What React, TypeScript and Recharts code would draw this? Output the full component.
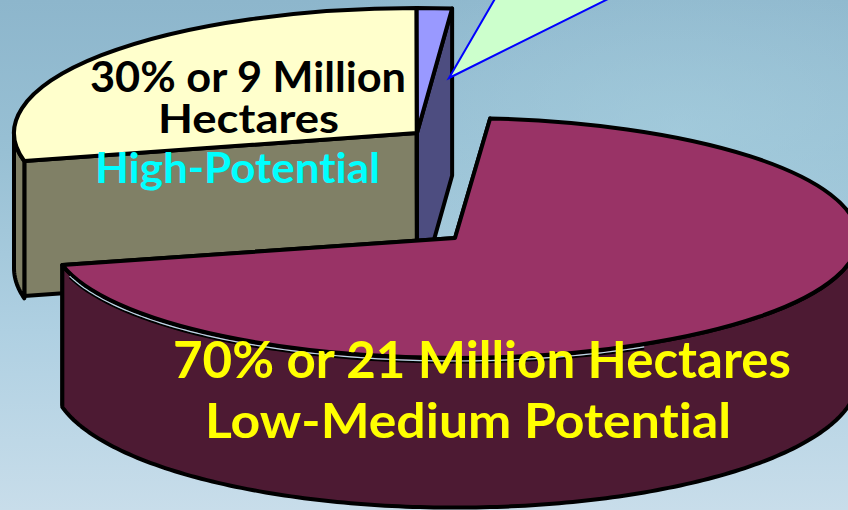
import React from "react";
import { PieChart, Pie } from "recharts";

const W = 848;
const H = 510;

// --- data ---
const categories = ["High-Potential", "Other", "Low-Medium Potential"];
const shares = [28.6, 1.4, 70];
const labelLines = [
  ["30% or 9 Million", "Hectares", "High-Potential"],
  [],
  ["70% or 21 Million Hectares", "Low-Medium Potential"],
];

// --- styles ---
const topColors = ["#FFFFCC", "#9999FF", "#993366"];
const wallColors = ["#808066", "#4D4D80", "#4D1A33"];
const offsetsX = [-38, -38, 0];
const offsetsY = [-105, -105, 0];
const radiiY = [125, 125, 120];
const depths = [135, 167, 140];
const bulges = [1.08, 1.08, 1.08];
const slivers = [false, false, true];

const labelX = [[90, 158, 95], [], [173, 205]];
const labelY = [[92, 133, 183], [], [378, 438]];
const labelW = [[316, 181, 285], [], [618, 526]];
const labelSize = [[42, 41, 42], [], [51, 47]];
const labelFill = [["#000", "#000", "#00FFFF"], [], ["#FFFF00", "#FFFF00"]];

const fontFamily = "Lato, 'Open Sans', sans-serif";
const rad = (a: number) => (a * Math.PI) / 180;

function Slice3D(props: any) {
  const { cx, cy, outerRadius, startAngle, endAngle, index } = props;
  const idx = index ?? categories.indexOf(props.name ?? props.payload?.name);
  const x0 = cx + offsetsX[idx];
  const y0 = cy + offsetsY[idx];
  const rx = outerRadius;
  const ry = radiiY[idx];
  const depth = depths[idx];
  const bulge = bulges[idx];
  const top = (t: number) => [x0 + rx * Math.cos(rad(t)), y0 - ry * Math.sin(rad(t))];
  const bottom = (t: number) => [x0 + rx * Math.cos(rad(t)), y0 + depth - ry * bulge * Math.sin(rad(t))];
  const poly = (pts: number[][]) => pts.map((p, i) => `${i ? "L" : "M"}${p[0]} ${p[1]}`).join(" ") + " Z";

  const ts: number[] = [];
  for (let t = startAngle; t >= endAngle; t -= 1) if (Math.sin(rad(t)) <= 0.0001) ts.push(t);
  if (Math.sin(rad(endAngle)) <= 0) ts.push(endAngle);

  const outer = ts.length > 1 ? poly([...ts.map(top), ...ts.slice().reverse().map(bottom)]) : null;
  const apexB = [x0, y0 + depth];
  const cut = (t: number) => poly([[x0, y0], top(t), [top(t)[0], top(t)[1] + depth], apexB]);
  const s = top(startAngle);
  const e = top(endAngle);
  const large = Math.abs(startAngle - endAngle) > 180 ? 1 : 0;
  const face = `M${x0} ${y0} L${s[0]} ${s[1]} A${rx} ${ry} 0 ${large} 1 ${e[0]} ${e[1]} Z`;

  const stroke = { stroke: "#000", strokeWidth: 4, strokeLinejoin: "round" as const };
  const sliverPts: number[][] = [];
  if (slivers[idx]) for (let t = -62; t >= -163; t -= 1) sliverPts.push(top(t));
  const line = (dy: number) =>
    sliverPts.map((p, i) => `${i ? "L" : "M"}${p[0]} ${p[1] + dy}`).join(" ");

  return (
    <g>
      <path d={cut(startAngle)} fill={wallColors[idx]} {...stroke} />
      <path d={cut(endAngle)} fill={wallColors[idx]} {...stroke} />
      {outer && <path d={outer} fill={wallColors[idx]} {...stroke} />}
      <path d={face} fill={topColors[idx]} {...stroke} />
      {slivers[idx] && (
        <>
          <path d={line(4.5)} fill="none" stroke="#000" strokeWidth={2} />
          <path d={line(3)} fill="none" stroke="#B9D8E6" strokeWidth={1.2} />
        </>
      )}
    </g>
  );
}

const data = categories.map((name, i) => ({ name, value: shares[i] }));

function renderLabel(props: any) {
  const idx = props.index;
  return (
    <g>
      {idx === 1 && (
        <polygon points="449,78 496,-3 612,-3" fill="#CCFFCC" stroke="#0000FF" strokeWidth={2} />
      )}
      {labelLines[idx].map((line, i) => (
        <text
          key={line}
          x={labelX[idx][i]}
          y={labelY[idx][i]}
          textLength={labelW[idx][i]}
          lengthAdjust="spacingAndGlyphs"
          fill={labelFill[idx][i]}
          fontFamily={fontFamily}
          fontWeight={700}
          fontSize={labelSize[idx][i]}
          style={{ fontVariantLigatures: "none" }}
        >
          {line}
        </text>
      ))}
    </g>
  );
}

export default function App() {
  return (
    <div
      style={{
        position: "fixed",
        left: 0,
        top: 0,
        width: W,
        height: H,
        overflow: "hidden",
        background:
          "radial-gradient(ellipse 420px 200px at 680px 130px, rgba(170,210,225,0.55), rgba(170,210,225,0) 100%), linear-gradient(180deg,#8DB6CC 0%,#98C0D4 30%,#AFD0E2 65%,#C8DDEA 100%)",
      }}
    >
      <PieChart width={W} height={H} margin={{ top: 0, right: 0, bottom: 0, left: 0 }}>
        <Pie
          data={data}
          dataKey="value"
          nameKey="name"
          cx={455}
          cy={238}
          innerRadius={0}
          outerRadius={403}
          startAngle={193}
          endAngle={-167}
          paddingAngle={0}
          stroke="none"
          isAnimationActive={false}
          shape={Slice3D as any}
          label={renderLabel}
          labelLine={false}
        />
      </PieChart>
    </div>
  );
}
